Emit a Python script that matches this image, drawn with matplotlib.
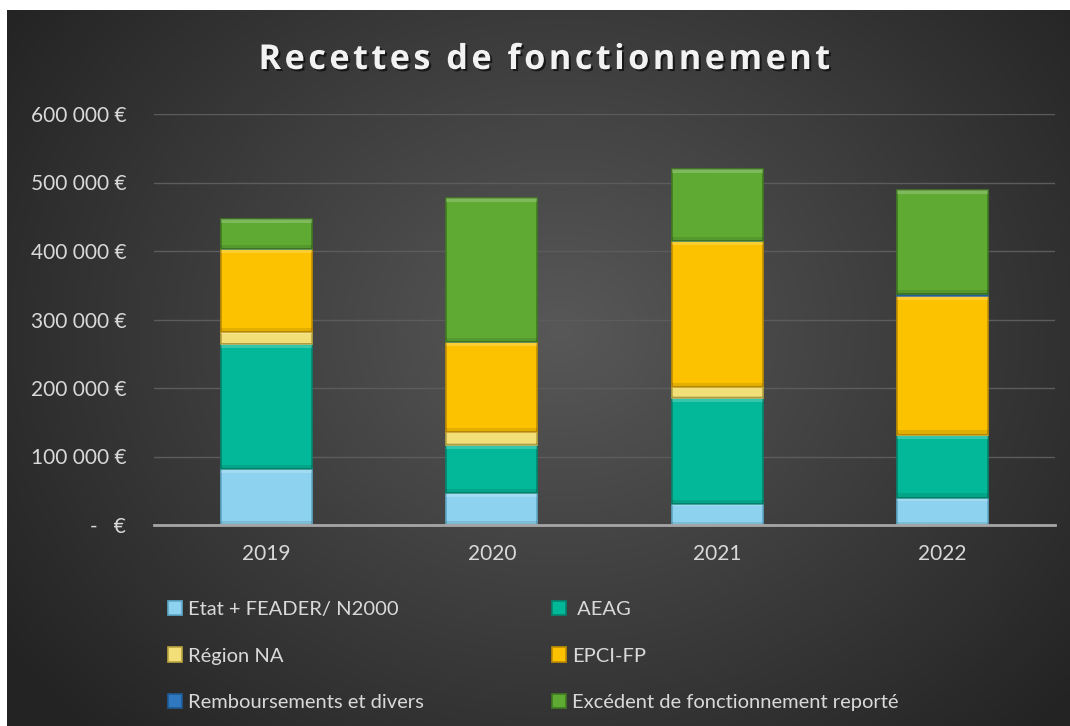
import matplotlib.pyplot as plt
import matplotlib.patheffects as pe
import numpy as np

font = "Lato"

years = ["2019", "2020", "2021", "2022"]
etat = [82000, 47000, 31000, 40000]
aeag = [182000, 70000, 155000, 92000]
region = [17500, 19000, 16000, 0]
epci = [121500, 131000, 213000, 202000]
rembours = [0, 0, 0, 3000]
excedent = [43000, 211000, 105000, 152000]

labels = ["Etat + FEADER/ N2000", " AEAG", "Région NA", "EPCI-FP",
          "Remboursements et divers", "Excédent de fonctionnement reporté"]
colors = ["#8dd2ef", "#03b898", "#f2df78", "#fcc200", "#2f78c0", "#5faa33"]
edges = ["#5fa9c8", "#02866f", "#b9a640", "#c28f00", "#1f5a93", "#3f7a20"]
series = [etat, aeag, region, epci, rembours, excedent]

fig = plt.figure(figsize=(10.7, 7.26), dpi=100)

# fond en dégradé radial
bg = fig.add_axes([0, 0, 1, 1], zorder=-10)
bg.axis("off")
yy, xx = np.mgrid[0:726, 0:1070]
r = np.sqrt(((xx - 560) / 620.0) ** 2 + ((yy - 330) / 520.0) ** 2)
val = np.clip(0.345 - 0.19 * r, 0.14, 1)
img = np.dstack([val, val, val])
img[:10, :, :] = 1
img[:, :7, :] = 1
bg.imshow(img, extent=[0, 1, 0, 1], aspect="auto", interpolation="bilinear")
bg.set_xlim(0, 1)
bg.set_ylim(0, 1)

ax = fig.add_axes([154 / 1070, 1 - 525 / 726, 901 / 1070, 411 / 726])
ax.patch.set_alpha(0)

x = np.arange(len(years))
bottom = np.zeros(len(years))
handles = []
for vals, lab, c, ec in zip(series, labels, colors, edges):
    vals = np.array(vals, dtype=float)
    b = ax.bar(x, vals, 0.405, bottom=bottom, color=c, edgecolor=ec,
               linewidth=1.2, label=lab, zorder=3)
    # reflet en haut, ombre en bas de chaque segment
    hl = np.minimum(vals * 0.12, 6000)
    ax.bar(x, np.where(vals > 2000, hl, 0), 0.405, bottom=bottom + vals - hl,
           color="white", alpha=0.2, linewidth=0, zorder=4)
    ax.bar(x, np.where(vals > 2000, hl, 0), 0.405, bottom=bottom,
           color="black", alpha=0.1, linewidth=0, zorder=4)
    handles.append(b)
    bottom += vals

ax.set_xlim(-0.5, 3.5)
ax.set_ylim(0, 600000)
ax.set_yticks(np.arange(0, 600001, 100000))
ax.set_yticklabels(["-   €" if v == 0 else f"{v:,.0f} €".replace(",", " ")
                    for v in np.arange(0, 600001, 100000)])
ax.set_xticks(x)
ax.set_xticklabels(years)
ax.tick_params(length=0, colors="#d9d9d9", labelsize=15)
ax.tick_params(axis="x", pad=14)
ax.tick_params(axis="y", pad=20)
for t in ax.get_xticklabels() + ax.get_yticklabels():
    t.set_fontname(font)
ax.grid(axis="y", color="#5c5c5c", linewidth=1, zorder=0)
for s in ["top", "right", "left"]:
    ax.spines[s].set_visible(False)
ax.spines["bottom"].set_color("#a6a6a6")
ax.spines["bottom"].set_linewidth(2)
ax.spines["bottom"].set_zorder(5)

title = "\u200a".join("Recettes de fonctionnement")
fig.text(543 / 1070, 1 - 69 / 726, title,
         ha="center", va="baseline", color="#f2f2f2", fontsize=24.7,
         fontweight="bold", family=["Open Sans", "DejaVu Sans"],
         path_effects=[pe.withSimplePatchShadow(offset=(1.5, -1.5),
                                                shadow_rgbFace="black",
                                                alpha=0.6)])

order = [0, 2, 4, 1, 3, 5]
leg = fig.legend([handles[i] for i in order], [labels[i] for i in order],
                 ncol=2, loc="upper left",
                 bbox_to_anchor=(150 / 1070, 1 - 583 / 726),
                 frameon=False, handlelength=0.7, handleheight=0.7,
                 handletextpad=0.3, labelspacing=1.45, columnspacing=6.35,
                 prop={"family": font, "size": 14.5})
for t in leg.get_texts():
    t.set_color("#d9d9d9")

fig.savefig("out.png", dpi=100)
